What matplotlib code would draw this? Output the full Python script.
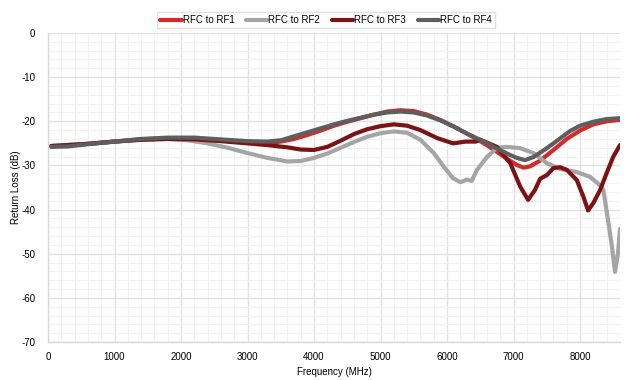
import matplotlib
matplotlib.use("Agg")
import matplotlib.pyplot as plt
from matplotlib.ticker import MultipleLocator

plt.rcParams['font.family'] = ['Liberation Sans', 'DejaVu Sans']
plt.rcParams['axes.unicode_minus'] = False

series_names = ["RFC to RF1", "RFC to RF2", "RFC to RF3", "RFC to RF4"]
series_colors = ["#d42a2a", "#a5a5a5", "#7c1214", "#5e5e5e"]

rf1_f = [50, 300, 600, 1000, 1400, 1800, 2200, 2600, 3000, 3300, 3500, 3700, 3900, 4100, 4300, 4500, 4700, 4900, 5100, 5300, 5500, 5700, 5900, 6100, 6300, 6500, 6700, 6900, 7050, 7150, 7250, 7400, 7600, 7800, 8000, 8200, 8400, 8600]
rf1_db = [-25.6, -25.5, -25.1, -24.6, -24.1, -23.9, -23.9, -24.3, -24.7, -24.9, -24.6, -24.0, -23.1, -22.1, -21.0, -20.1, -19.3, -18.5, -17.8, -17.5, -17.7, -18.5, -19.7, -21.2, -22.8, -24.5, -26.4, -28.5, -29.9, -30.5, -30.2, -28.9, -26.5, -24.0, -22.1, -20.7, -20.0, -19.7]

rf2_f = [50, 600, 1000, 1400, 1800, 2100, 2400, 2700, 3000, 3300, 3600, 3800, 4000, 4200, 4400, 4600, 4800, 5000, 5200, 5400, 5600, 5800, 5950, 6090, 6200, 6300, 6370, 6450, 6600, 6750, 6900, 7100, 7300, 7500, 7700, 7950, 8150, 8300, 8350, 8420, 8480, 8525, 8570, 8600]
rf2_db = [-25.6, -25.1, -24.6, -24.1, -24.0, -24.3, -25.0, -26.0, -27.2, -28.3, -29.1, -29.0, -28.3, -27.3, -26.0, -24.7, -23.5, -22.7, -22.3, -22.6, -24.2, -27.2, -30.3, -32.9, -33.8, -33.2, -33.5, -31.0, -28.1, -26.0, -25.8, -26.1, -27.2, -29.5, -30.8, -31.5, -32.6, -34.5, -35.6, -42.4, -48.5, -54.1, -49.9, -44.4]

rf3_f = [50, 600, 1000, 1400, 1800, 2200, 2600, 3000, 3300, 3600, 3800, 4000, 4200, 4400, 4600, 4800, 5000, 5200, 5400, 5600, 5850, 6090, 6280, 6430, 6500, 6750, 6950, 7100, 7218, 7320, 7400, 7500, 7600, 7700, 7800, 7950, 8050, 8120, 8200, 8300, 8400, 8500, 8600]
rf3_db = [-25.6, -25.1, -24.6, -24.2, -24.0, -24.1, -24.5, -25.0, -25.4, -25.9, -26.4, -26.5, -25.8, -24.4, -22.9, -21.8, -21.1, -20.7, -21.0, -22.0, -23.8, -25.0, -24.6, -24.6, -24.2, -25.8, -29.5, -34.8, -37.8, -35.6, -33.0, -32.2, -30.6, -30.4, -31.0, -33.3, -37.1, -40.2, -38.5, -35.6, -31.7, -28.0, -25.4]

rf4_f = [50, 300, 600, 1000, 1400, 1800, 2200, 2600, 3000, 3300, 3500, 3700, 3900, 4100, 4300, 4500, 4700, 4900, 5100, 5300, 5500, 5700, 5900, 6100, 6300, 6500, 6700, 6900, 7050, 7170, 7300, 7450, 7600, 7850, 8000, 8200, 8400, 8600]
rf4_db = [-25.8, -25.7, -25.2, -24.6, -24.0, -23.7, -23.7, -24.1, -24.5, -24.6, -24.3, -23.4, -22.5, -21.6, -20.7, -19.9, -19.2, -18.5, -18.0, -17.8, -18.0, -18.7, -19.8, -21.2, -22.8, -24.2, -25.8, -27.3, -28.3, -28.8, -28.1, -26.6, -25.0, -22.2, -21.0, -20.1, -19.5, -19.3]

series_f = [rf1_f, rf2_f, rf3_f, rf4_f]
series_db = [rf1_db, rf2_db, rf3_db, rf4_db]

x_ticks = [0, 1000, 2000, 3000, 4000, 5000, 6000, 7000, 8000]
y_ticks = [0, -10, -20, -30, -40, -50, -60, -70]

fig = plt.figure(figsize=(6.31, 3.80), dpi=100)
ax = fig.add_axes([48/631, 38/380, 572/631, 309/380])

for f, d, name, c in zip(series_f, series_db, series_names, series_colors):
    ax.plot(f, d, color=c, lw=3.0, label=name, solid_capstyle='round', solid_joinstyle='round')

ax.set_xlim(0, 8600)
ax.set_ylim(-70, 0)
ax.set_xticks(x_ticks)
ax.set_yticks(y_ticks)
ax.xaxis.set_minor_locator(MultipleLocator(200))
ax.yaxis.set_minor_locator(MultipleLocator(2))
ax.grid(which='major', color='#e2e2e2', lw=1.0)
ax.grid(which='minor', color='#f2f2f2', lw=0.8)
ax.set_axisbelow(True)
for s in ['top', 'right']:
    ax.spines[s].set_visible(False)
for s in ['left', 'bottom']:
    ax.spines[s].set_color('#d9d9d9')
    ax.spines[s].set_linewidth(1.0)
ax.tick_params(which='both', length=0, labelsize=7)
ax.tick_params(axis='y', pad=9)
ax.tick_params(axis='x', pad=7)
ax.set_xlabel("Frequency (MHz)", fontsize=7, labelpad=4)
ax.set_ylabel("Return Loss (dB)", fontsize=7)
ax.yaxis.set_label_coords(-(48 - 21) / 572, 0.5)

leg = ax.legend(loc='center', bbox_to_anchor=(0.486, 1.042), ncol=4, fontsize=7,
                frameon=True, fancybox=False, edgecolor='#d9d9d9', handlelength=2.2,
                handletextpad=0.1, columnspacing=1.2, borderpad=0.35)
leg.get_frame().set_linewidth(1.0)

fig.savefig("out.png", dpi=100)
